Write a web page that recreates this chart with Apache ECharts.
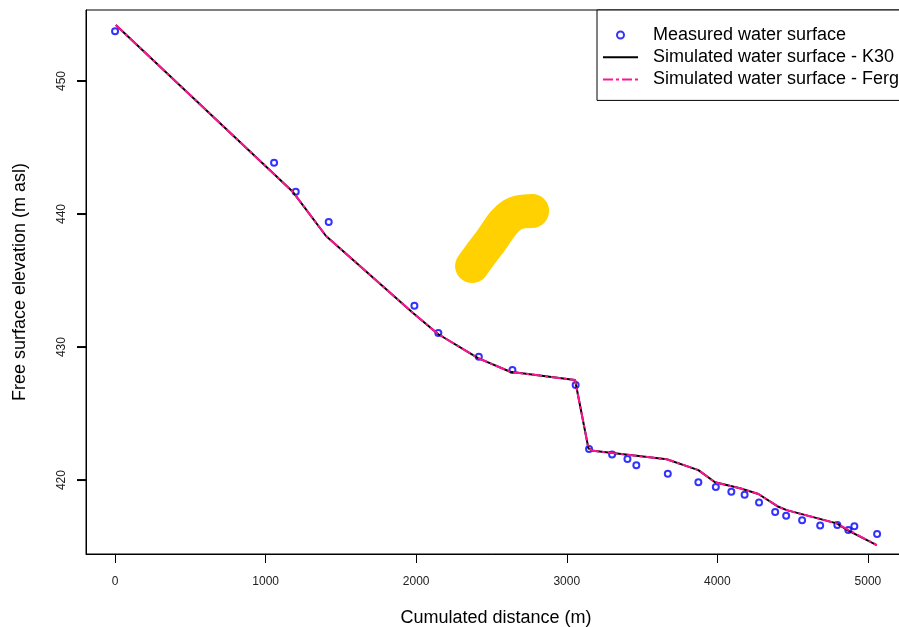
<!DOCTYPE html>
<html>
<head>
<meta charset="utf-8">
<script src="https://cdn.jsdelivr.net/npm/echarts@6/dist/echarts.min.js"></script>
<style>html,body{margin:0;padding:0;background:#fff;}#chart{width:899px;height:627px;}</style>
</head>
<body>
<div id="chart"></div>
<script>
// Measured water surface
const measuredDistance = [0, 1056, 1200, 1419, 1988, 2147, 2416, 2639, 3059, 3148, 3301, 3403, 3462, 3671, 3874, 3990, 4093, 4181, 4277, 4384, 4457, 4563, 4683, 4797, 4870, 4910, 5061];
const measuredElevation = [453.74, 443.86, 441.68, 439.40, 433.11, 431.05, 429.27, 428.27, 427.14, 422.33, 421.93, 421.58, 421.11, 420.47, 419.83, 419.47, 419.12, 418.89, 418.32, 417.59, 417.32, 416.97, 416.59, 416.62, 416.24, 416.52, 415.94];
// Simulated water surface
const simDistance = [5, 1182, 1401, 1979, 2145, 2411, 2624, 3055, 3144, 3175, 3664, 3874, 3985, 4151, 4273, 4406, 4461, 4793, 4870, 5059];
const simK30 = [454.21, 441.65, 438.35, 432.56, 430.98, 429.17, 428.14, 427.52, 422.38, 422.20, 421.56, 420.75, 419.83, 419.38, 418.95, 417.99, 417.74, 416.74, 416.19, 415.11];
const simFerg = [454.21, 441.65, 438.35, 432.56, 430.98, 429.17, 428.14, 427.52, 422.38, 422.20, 421.56, 420.75, 419.83, 419.38, 418.95, 417.99, 417.74, 416.74, 416.25, 415.11];
// Yellow highlight stroke (in data space)
const highlightX = [2371, 2480, 2640, 2770];
const highlightY = [436.09, 437.75, 439.95, 440.23];
// Axis ticks
const xTicks = [0, 1000, 2000, 3000, 4000, 5000];
const yTicks = [420, 430, 440, 450];

const zip = (a, b) => a.map((v, i) => [v, b[i]]);
const FONT = '"Liberation Sans", Arial, sans-serif';
const plain = v => String(v);
const X_MIN = -193, X_MAX = 5253, Y_MIN = 414.44, Y_MAX = 455.34;

const chart = echarts.init(document.getElementById('chart'), null, {renderer: 'canvas'});
chart.setOption({
  animation: false,
  backgroundColor: '#fff',
  grid: {
    left: 86, top: 10, width: 820, height: 544,
    show: true, borderColor: '#000', borderWidth: 1, backgroundColor: 'transparent',
    containLabel: false, outerBoundsMode: 'none'
  },
  xAxis: {
    type: 'value', min: X_MIN, max: X_MAX,
    name: 'Cumulated distance (m)', nameLocation: 'middle', nameGap: 55,
    nameTextStyle: {fontFamily: FONT, fontSize: 18, color: '#000'},
    axisLine: {show: true, onZero: false, lineStyle: {color: '#000', width: 1}},
    axisTick: {show: true, inside: false, length: 9, customValues: xTicks, lineStyle: {color: '#000', width: 1}},
    axisLabel: {show: true, customValues: xTicks, formatter: plain, margin: 22, fontFamily: FONT, fontSize: 12, color: '#222'},
    splitLine: {show: false}
  },
  yAxis: {
    type: 'value', min: Y_MIN, max: Y_MAX, position: 'left',
    name: 'Free surface elevation (m asl)', nameLocation: 'middle', nameGap: 57, nameRotate: 90,
    nameTextStyle: {fontFamily: FONT, fontSize: 18, color: '#000'},
    axisLine: {show: true, onZero: false, lineStyle: {color: '#000', width: 1}},
    axisTick: {show: false},
    axisLabel: {show: true, customValues: yTicks, formatter: plain, rotate: 90, margin: 18, fontFamily: FONT, fontSize: 12, color: '#222'},
    splitLine: {show: false}
  },
  legend: {
    orient: 'vertical', left: 597, top: 10,
    backgroundColor: '#fff', borderColor: '#000', borderWidth: 1,
    padding: [15, 6, 11, 5],
    itemWidth: 35, itemHeight: 7, itemGap: 2.2,
    selectedMode: false,
    textStyle: {fontFamily: FONT, fontSize: 18, color: '#000', lineHeight: 20, padding: [0, 0, 0, 10]},
    data: [
      {name: 'Measured water surface'},
      {name: 'Simulated water surface - K30', itemStyle: {opacity: 0}},
      {name: 'Simulated water surface - Ferguson', itemStyle: {opacity: 0}}
    ]
  },
  series: [
    {
      name: 'highlight', type: 'line', data: zip(highlightX, highlightY),
      smooth: 0.4, symbol: 'none', silent: true, z: 1,
      lineStyle: {color: '#FFD100', width: 34, cap: 'round', join: 'round'}
    },
    {
      name: 'Measured water surface', type: 'scatter', data: zip(measuredDistance, measuredElevation),
      symbol: 'emptyCircle', symbolSize: 6, z: 2,
      itemStyle: {color: '#0000FF', borderColor: '#0000FF', borderWidth: 2}
    },
    {
      name: 'Simulated water surface - K30', type: 'line', data: zip(simDistance, simK30),
      symbol: 'none', showSymbol: false, z: 3,
      itemStyle: {color: '#000', opacity: 0},
      lineStyle: {color: '#000', width: 2}
    },
    {
      name: 'Simulated water surface - Ferguson', type: 'line', data: zip(simDistance, simFerg),
      symbol: 'none', showSymbol: false, z: 4,
      itemStyle: {color: '#FF1493', opacity: 0},
      lineStyle: {color: '#FF1493', width: 2, type: [10, 3, 3, 3]}
    },
    {
      // y-axis tick marks at the left edge of the plot, placed through the axis scales
      name: 'yTickMarks', type: 'scatter', data: yTicks.map(v => [X_MIN, v]),
      symbol: 'rect', symbolSize: [9, 2], symbolOffset: [-4.5, 0], clip: false, silent: true, z: 5,
      itemStyle: {color: '#000', opacity: 1}
    }
  ]
});
</script>
</body>
</html>
